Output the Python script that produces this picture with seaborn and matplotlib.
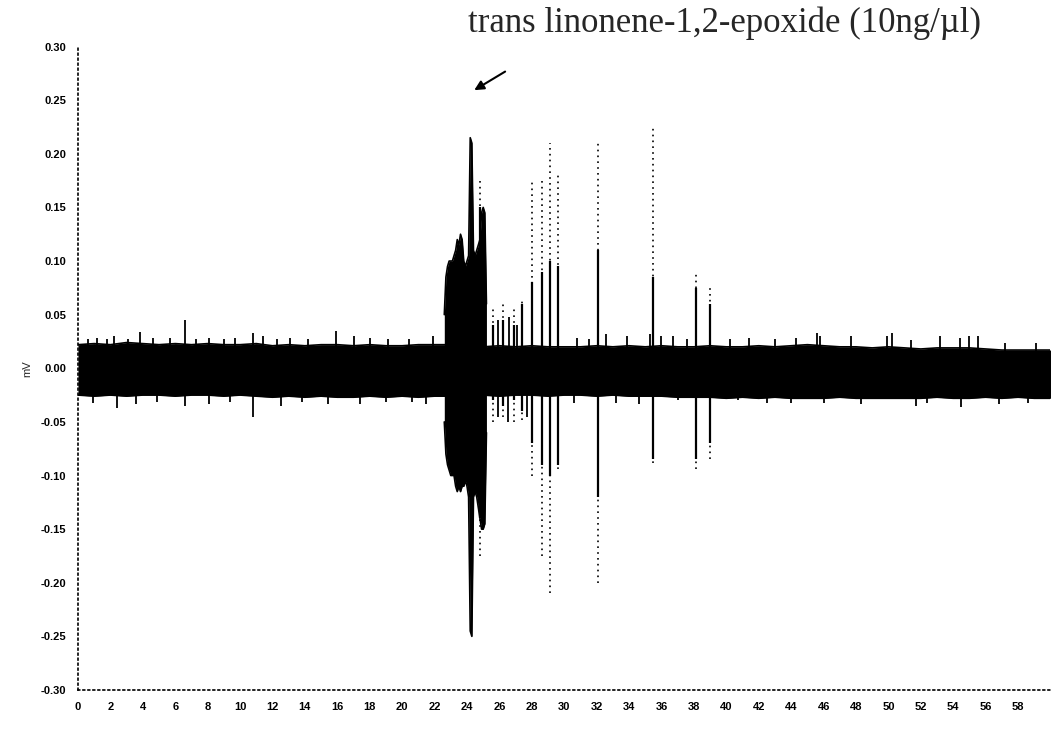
import pandas as pd
import seaborn as sns
import matplotlib.pyplot as plt
from matplotlib.ticker import FormatStrFormatter

# baseline noise band, upper / lower edge read once per second (mV)
base_t = list(range(0, 61))
base_hi = [0.022, 0.023, 0.022, 0.024, 0.023, 0.022, 0.023, 0.022, 0.023, 0.022,
           0.022, 0.023, 0.021, 0.022, 0.021, 0.022, 0.022, 0.021, 0.022, 0.021,
           0.021, 0.022, 0.022, 0.022, 0.022, 0.020, 0.021, 0.020, 0.021, 0.020,
           0.020, 0.020, 0.021, 0.020, 0.021, 0.020, 0.021, 0.020, 0.020, 0.021,
           0.020, 0.020, 0.021, 0.020, 0.021, 0.022, 0.021, 0.020, 0.020, 0.019,
           0.020, 0.019, 0.018, 0.019, 0.019, 0.019, 0.018, 0.017, 0.017, 0.017,
           0.017]
base_lo = [-0.025, -0.026, -0.025, -0.026, -0.025, -0.025, -0.026, -0.025, -0.025, -0.026,
           -0.025, -0.026, -0.027, -0.026, -0.027, -0.026, -0.027, -0.027, -0.026, -0.027,
           -0.026, -0.027, -0.026, -0.026, -0.026, -0.025, -0.026, -0.025, -0.025, -0.026,
           -0.025, -0.025, -0.026, -0.025, -0.026, -0.026, -0.026, -0.027, -0.027, -0.027,
           -0.028, -0.027, -0.028, -0.027, -0.028, -0.028, -0.028, -0.027, -0.028, -0.028,
           -0.028, -0.028, -0.028, -0.027, -0.028, -0.028, -0.027, -0.028, -0.027, -0.028,
           -0.028]

# response burst to the stimulus, edges read every 0.1 s
burst_t = [22.6, 22.7, 22.8, 22.9, 23.0, 23.1, 23.2, 23.3, 23.4, 23.5, 23.6, 23.7, 23.8,
           23.9, 24.0, 24.1, 24.2, 24.3, 24.4, 24.5, 24.6, 24.7, 24.8, 24.9, 25.0, 25.1, 25.2]
burst_hi = [0.05, 0.085, 0.095, 0.10, 0.10, 0.10, 0.105, 0.11, 0.12, 0.115, 0.125, 0.12, 0.10,
            0.095, 0.10, 0.105, 0.215, 0.21, 0.11, 0.105, 0.11, 0.115, 0.12, 0.145, 0.15, 0.145, 0.06]
burst_lo = [-0.05, -0.08, -0.09, -0.095, -0.10, -0.10, -0.10, -0.11, -0.115, -0.11, -0.115,
            -0.11, -0.11, -0.105, -0.11, -0.12, -0.245, -0.25, -0.12, -0.115, -0.12, -0.13,
            -0.14, -0.15, -0.15, -0.145, -0.06]

# isolated spikes after the burst: full (dotted) extent and solid core
spike_t = [24.8, 25.6, 26.2, 26.9, 27.4, 28.0, 28.6, 29.1, 29.6, 32.1, 35.5, 38.1, 39.0]
spike_hi = [0.175, 0.055, 0.06, 0.055, 0.065, 0.175, 0.175, 0.21, 0.18, 0.21, 0.227, 0.09, 0.077]
spike_lo = [-0.175, -0.05, -0.045, -0.05, -0.048, -0.10, -0.175, -0.21, -0.094, -0.20, -0.088, -0.094, -0.085]
spike_core_hi = [0.15, 0.04, 0.045, 0.04, 0.06, 0.08, 0.09, 0.10, 0.095, 0.11, 0.085, 0.075, 0.06]
spike_core_lo = [-0.14, -0.03, -0.035, -0.03, -0.04, -0.07, -0.09, -0.10, -0.09, -0.12, -0.085, -0.085, -0.07]

# small noise spikes poking out of the band
noise_up_t = [0.6, 1.2, 1.8, 2.2, 3.1, 3.8, 4.6, 5.7, 6.6, 7.3, 8.1, 9.0, 9.7, 10.8, 11.4, 12.3,
              13.1, 14.2, 15.9, 17.0, 18.0, 19.1, 20.4, 21.9, 25.9, 26.6, 27.1,
              30.8, 31.5, 32.6, 33.9, 35.3, 36.0, 36.7, 37.6, 40.2, 41.4, 43.0, 44.3,
              45.6, 45.8, 47.7, 49.9, 50.2, 51.4, 53.2, 54.4, 55.0, 55.5, 57.2, 59.1]
noise_up = [0.027, 0.028, 0.027, 0.030, 0.027, 0.034, 0.028, 0.028, 0.045, 0.027, 0.028, 0.027,
            0.028, 0.033, 0.030, 0.027, 0.028, 0.027, 0.035, 0.030, 0.028, 0.027, 0.027, 0.030,
            0.045, 0.048, 0.040, 0.028, 0.027, 0.032, 0.030, 0.032, 0.030, 0.030, 0.027, 0.027,
            0.028, 0.027, 0.028, 0.033, 0.030, 0.030, 0.030, 0.033, 0.026, 0.030, 0.028, 0.030,
            0.030, 0.024, 0.024]
noise_dn_t = [0.9, 2.4, 3.6, 4.9, 6.6, 8.1, 9.4, 10.8, 12.5, 13.8, 15.4, 17.4, 19.0, 20.6, 21.5,
              25.9, 26.5, 27.7, 30.6, 33.2, 34.6, 37.0, 40.7, 42.5, 44.0, 46.0, 48.3, 51.7, 52.4,
              54.5, 56.8, 58.6]
noise_dn = [-0.032, -0.037, -0.033, -0.031, -0.035, -0.033, -0.031, -0.045, -0.035, -0.031,
            -0.033, -0.033, -0.031, -0.031, -0.033, -0.045, -0.05, -0.045, -0.032, -0.032,
            -0.033, -0.030, -0.030, -0.032, -0.032, -0.032, -0.033, -0.035, -0.032, -0.036,
            -0.033, -0.032]

title = "trans linonene-1,2-epoxide (10ng/\u00b5l)"
x_ticks = list(range(0, 60, 2))
y_ticks = [-0.30, -0.25, -0.20, -0.15, -0.10, -0.05, 0.00, 0.05, 0.10, 0.15, 0.20, 0.25, 0.30]

sns.set_style("white")
plt.rcParams["font.family"] = ["Liberation Sans", "DejaVu Sans"]

fig = plt.figure(figsize=(10.64, 7.32), dpi=100)
ax = fig.add_axes([0.0733, 0.0574, 0.914, 0.879])

base = pd.DataFrame({"t": base_t, "hi": base_hi, "lo": base_lo})
burst = pd.DataFrame({"t": burst_t, "hi": burst_hi, "lo": burst_lo})

for df in (base, burst):
    sns.lineplot(data=df, x="t", y="hi", color="black", lw=1.2, ax=ax)
    sns.lineplot(data=df, x="t", y="lo", color="black", lw=1.2, ax=ax)
    ax.fill_between(df["t"], df["lo"], df["hi"], color="black", lw=0)

ax.vlines(spike_t, spike_lo, spike_hi, colors="black", linestyles=(0, (1, 2.5)), lw=1.2)
ax.vlines(spike_t, spike_core_lo, spike_core_hi, colors="black", lw=1.6)
ax.vlines(noise_up_t, 0, noise_up, colors="black", lw=1.3)
ax.vlines(noise_dn_t, noise_dn, 0, colors="black", lw=1.3)

ax.annotate("", xy=(24.3, 0.258), xytext=(26.5, 0.278),
            arrowprops=dict(arrowstyle="-|>", color="black", lw=1.5, mutation_scale=14))
fig.text(0.681, 0.968, title, ha="center", va="center", fontsize=25,
         family=["Liberation Serif", "DejaVu Serif"])

ax.set_xlim(0, 60)
ax.set_ylim(-0.30, 0.30)
ax.set_xticks(x_ticks)
ax.set_yticks(y_ticks)
ax.yaxis.set_major_formatter(FormatStrFormatter("%.2f"))
ax.set_xlabel("")
ax.set_ylabel("mV", fontsize=8, labelpad=6)
ax.tick_params(axis="both", which="major", direction="out", length=5, width=1,
               colors="black", labelsize=8)
for lab in ax.get_xticklabels() + ax.get_yticklabels():
    lab.set_fontweight("bold")

for side in ("top", "right"):
    ax.spines[side].set_visible(False)
for side in ("left", "bottom"):
    ax.spines[side].set_linestyle((0, (1, 2)))
    ax.spines[side].set_linewidth(1.2)
    ax.spines[side].set_color("black")

fig.savefig("out.png", dpi=100)
